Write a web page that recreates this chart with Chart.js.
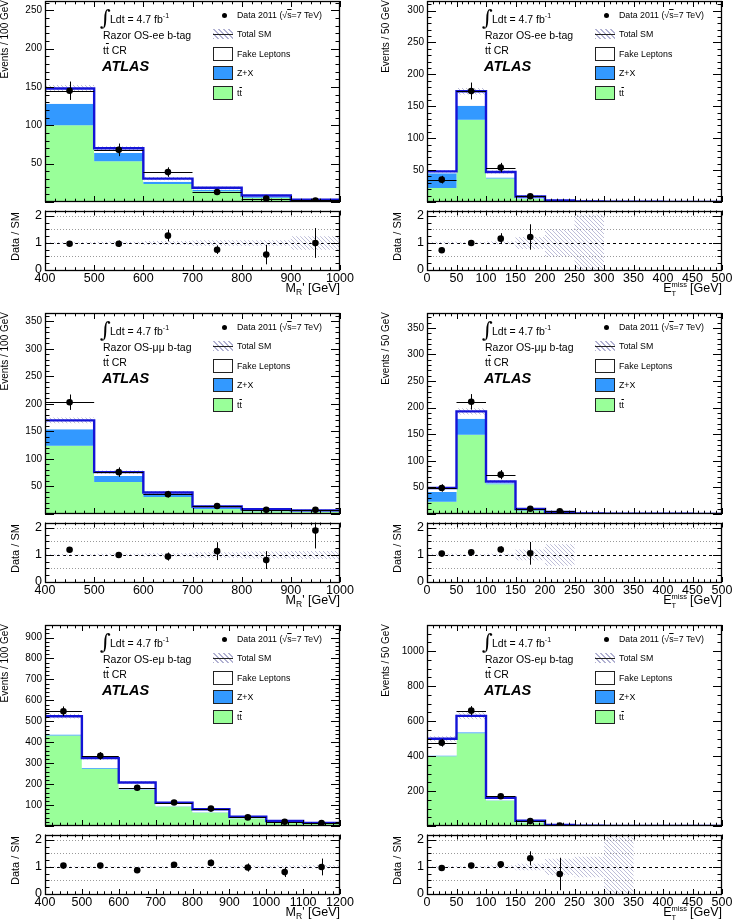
<!DOCTYPE html>
<html>
<head>
<meta charset="utf-8">
<title>Razor ttbar control regions</title>
<script src="https://cdn.jsdelivr.net/npm/chart.js@4.4.1/dist/chart.umd.min.js"></script>
<style>
  body { margin: 0; background: #fff; }
  #page { position: relative; width: 737px; height: 920px; overflow: hidden; background: #fff;
          font-family: "Liberation Sans", Arial, sans-serif; color: #000; }
  #page canvas { position: absolute; }
  .t { position: absolute; white-space: nowrap; line-height: 1; }
  .ov { text-decoration: overline; }
  .vt { position: absolute; writing-mode: vertical-rl; transform: rotate(180deg); white-space: nowrap; line-height: 1; }
  .sw { position: absolute; box-sizing: border-box; border: 1px solid #222; }
</style>
</head>
<body>
<div id="page"></div>
<script>
// bin edges
const mrEdges = [400, 500, 600, 700, 800, 900, 1000];
const emuMrEdges = [400, 500, 600, 700, 800, 900, 1000, 1100, 1200];
const metEdges = [0, 50, 100, 150, 200, 250, 300, 350, 400, 450, 500];

// OS-ee, M_R'
const eeMrTtbar = [100, 53, 23.5, 14, 5.5, 2];
const eeMrZx = [28, 11, 3, 2, 1.5, 0.5];
const eeMrFake = [20, 6, 4, 2.5, 1.5, 0.5];
const eeMrData = [145, 68, 39, 13, 4.5, 2];
const eeMrDataErr = [12, 8.2, 6.2, 3.6, 2.1, 1.4];
const eeMrRatio = [0.97, 0.97, 1.27, 0.75, 0.57, 1.0];
const eeMrRatioErr = [0.08, 0.12, 0.21, 0.16, 0.36, 0.55];
const eeMrUnc = [0.03, 0.04, 0.07, 0.1, 0.1, 0.25];

// OS-ee, MET
const eeMetTtbar = [22, 129, 37, 5, 1.5, 0.6, 0.3, 0.2, 0.1, 0.1];
const eeMetZx = [23, 22, 1.5, 1, 0.3, 0.1, 0.1, 0.1, 0.05, 0.05];
const eeMetFake = [3, 22.5, 8.5, 2.7, 0.7, 0.3, 0.2, 0.1, 0.1, 0.05];
const eeMetData = [35, 174, 54, 9];
const eeMetDataErr = [6, 13.2, 7.3, 3];
const eeMetRatio = [0.73, 1.0, 1.16, 1.22];
const eeMetRatioErr = [0.1, 0.08, 0.2, 0.47];
const eeMetUnc = [0.04, 0.03, 0.05, 0.22, 0.5, 1.05, 0, 0, 0, 0];

// OS-mumu, M_R'
const mmMrTtbar = [124, 58, 31, 9, 5, 4];
const mmMrZx = [30, 11, 5, 2, 1.5, 1];
const mmMrFake = [16, 7, 3, 2.5, 2, 1.6];
const mmMrData = [203, 76, 36, 14.5, 7.5, 7.5];
const mmMrDataErr = [14, 8.7, 6, 3.8, 2.7, 2.7];
const mmMrRatio = [1.19, 1.0, 0.94, 1.14, 0.81, 1.9];
const mmMrRatioErr = [0.09, 0.11, 0.15, 0.33, 0.33, 0.66];
const mmMrUnc = [0.03, 0.04, 0.06, 0.1, 0.13, 0.15];

// OS-mumu, MET
const mmMetTtbar = [23, 149, 56, 7, 2.5, 0.7, 0.4, 0.3, 0.2, 0.1];
const mmMetZx = [18.5, 30, 2, 1, 0.5, 0.2, 0.1, 0.1, 0.05, 0.05];
const mmMetFake = [7.5, 14, 3, 1.3, 0.7, 0.3, 0.2, 0.1, 0.1, 0.05];
const mmMetData = [49, 211, 74, 10, 5];
const mmMetDataErr = [7, 14.5, 8.6, 3.2, 2.2];
const mmMetRatio = [1.05, 1.1, 1.2, 1.06];
const mmMetRatioErr = [0.1, 0.07, 0.12, 0.42];
const mmMetUnc = [0.04, 0.03, 0.04, 0.2, 0.4, 0, 0, 0, 0, 0];

// OS-emu, M_R'
const emMrTtbar = [432, 274, 173, 93, 65, 36, 17, 11];
const emMrZx = [5, 3, 2, 1, 1, 0.5, 0.3, 0.2];
const emMrFake = [87, 47, 33, 17, 14, 7.5, 6.7, 3.8];
const emMrData = [548, 335, 183, 112, 83, 41, 20, 14];
const emMrDataErr = [23, 18, 13.5, 10.6, 9, 6.4, 4.5, 3.7];
const emMrRatio = [1.05, 1.05, 0.88, 1.08, 1.15, 0.98, 0.81, 1.0];
const emMrRatioErr = [0.05, 0.06, 0.07, 0.1, 0.12, 0.15, 0.18, 0.31];
const emMrUnc = [0.02, 0.02, 0.03, 0.03, 0.03, 0.04, 0.05, 0.06];

// OS-emu, MET
const emMetTtbar = [399, 531, 146, 20, 3.5, 1.2, 0.6, 0.3, 0.2, 0.2];
const emMetZx = [4, 5, 2, 1, 0.5, 0.2, 0.1, 0.1, 0.1, 0.05];
const emMetFake = [96, 94, 14, 9, 2, 0.6, 0.3, 0.2, 0.1, 0.05];
const emMetData = [476, 660, 170, 28, 2];
const emMetDataErr = [22, 26, 13, 5.3, 1.4];
const emMetRatio = [0.96, 1.05, 1.1, 1.32, 0.74];
const emMetRatioErr = [0.05, 0.04, 0.08, 0.26, 0.6];
const emMetUnc = [0.03, 0.03, 0.05, 0.12, 0.3, 0.38, 1.1, 0, 0, 0];

const GREEN = 'rgb(153,255,153)';
const ZBLUE = 'rgb(51,153,255)';
const SMBLUE = 'rgb(20,20,215)';
const FONT = '"Liberation Sans", Arial, sans-serif';

Chart.defaults.font.family = FONT;
Chart.defaults.color = '#000';

const page = document.getElementById('page');

function makeHatch() {
    const c = document.createElement('canvas');
    c.width = 4; c.height = 4;
    const g = c.getContext('2d');
    g.strokeStyle = 'rgba(125,125,180,0.5)';
    g.lineWidth = 1;
    g.beginPath();
    g.moveTo(0, 0); g.lineTo(4, 4);
    g.moveTo(-1, 3); g.lineTo(1, 5);
    g.moveTo(3, -1); g.lineTo(5, 1);
    g.stroke();
    return g.createPattern(c, 'repeat');
}
const hatch = makeHatch();

function addCanvas(left, top, w, h) {
    const c = document.createElement('canvas');
    c.width = w; c.height = h;
    c.style.left = left + 'px';
    c.style.top = top + 'px';
    page.appendChild(c);
    return c;
}

function txt(html, left, cy, size, extra) {
    const d = document.createElement('div');
    d.className = 't';
    d.innerHTML = html;
    d.style.left = left + 'px';
    d.style.top = (cy - size * 0.49) + 'px';
    d.style.fontSize = size + 'px';
    if (extra) Object.assign(d.style, extra);
    page.appendChild(d);
    return d;
}

function box(left, top, w, h, css) {
    const d = document.createElement('div');
    d.className = 'sw';
    Object.assign(d.style, { left: left + 'px', top: top + 'px', width: w + 'px', height: h + 'px' }, css);
    page.appendChild(d);
}

// histogram as a stepped line: one point per bin start plus the last edge
function stepPts(edges, vals) {
    const pts = vals.map((v, i) => ({ x: edges[i], y: v }));
    pts.push({ x: edges[edges.length - 1], y: vals[vals.length - 1] });
    return pts;
}

function fillSet(pts, fill, color, order) {
    return { data: pts, stepped: true, fill: fill, backgroundColor: color,
             borderColor: 'rgba(0,0,0,0)', borderWidth: 0, pointRadius: 0, order: order };
}

function pointSet(xs, ys, order) {
    return { data: ys.map((v, i) => ({ x: xs[i], y: v })), showLine: false, fill: false,
             pointRadius: 3.3, pointBackgroundColor: '#000', pointBorderColor: '#000',
             pointBorderWidth: 0, order: order };
}

// ROOT style frame with inward ticks on all four sides
function frameTicks(cfg) {
    return {
        id: 'frameTicks',
        afterDraw(chart) {
            const { ctx, chartArea: a, scales: { x, y } } = chart;
            ctx.save();
            ctx.strokeStyle = '#000';
            ctx.lineWidth = 1;
            ctx.beginPath();
            let st = cfg.xStep / cfg.xSub;
            for (let i = Math.ceil(x.min / st - 1e-6); i * st <= x.max + 1e-6; i++) {
                const v = i * st;
                const major = Math.abs(v / cfg.xStep - Math.round(v / cfg.xStep)) < 1e-6;
                const len = major ? cfg.xLen : cfg.xLen * 0.55;
                const px = Math.round(x.getPixelForValue(v)) + 0.5;
                ctx.moveTo(px, a.bottom); ctx.lineTo(px, a.bottom - len);
                ctx.moveTo(px, a.top); ctx.lineTo(px, a.top + len);
            }
            st = cfg.yStep / cfg.ySub;
            for (let i = Math.ceil(y.min / st - 1e-6); i * st <= y.max + 1e-6; i++) {
                const v = i * st;
                const major = Math.abs(v / cfg.yStep - Math.round(v / cfg.yStep)) < 1e-6;
                const len = major ? cfg.yLen : cfg.yLen * 0.5;
                const py = Math.round(y.getPixelForValue(v)) + 0.5;
                ctx.moveTo(a.left, py); ctx.lineTo(a.left + len, py);
                ctx.moveTo(a.right, py); ctx.lineTo(a.right - len, py);
            }
            ctx.stroke();
            ctx.lineWidth = 1.3;
            ctx.strokeRect(Math.round(a.left) + 0.5, Math.round(a.top) + 0.5,
                           Math.round(a.right - a.left) - 1, Math.round(a.bottom - a.top) - 1);
            ctx.restore();
        }
    };
}

function errBars(xs, ys, errs, half) {
    return {
        id: 'errBars',
        afterDatasetsDraw(chart) {
            const { ctx, chartArea: a, scales: { x, y } } = chart;
            ctx.save();
            ctx.beginPath();
            ctx.rect(a.left, a.top, a.right - a.left, a.bottom - a.top);
            ctx.clip();
            ctx.strokeStyle = '#000';
            ctx.lineWidth = 1;
            ctx.beginPath();
            ys.forEach((v, i) => {
                const px = Math.round(x.getPixelForValue(xs[i])) + 0.5;
                const py = Math.round(y.getPixelForValue(v)) + 0.5;
                ctx.moveTo(px, y.getPixelForValue(v - errs[i]));
                ctx.lineTo(px, y.getPixelForValue(v + errs[i]));
                if (half) {
                    ctx.moveTo(x.getPixelForValue(xs[i] - half), py);
                    ctx.lineTo(x.getPixelForValue(xs[i] + half), py);
                }
            });
            ctx.stroke();
            ctx.restore();
        }
    };
}

const ratioLines = {
    id: 'ratioLines',
    beforeDatasetsDraw(chart) {
        const { ctx, chartArea: a, scales: { y } } = chart;
        ctx.save();
        ctx.lineWidth = 1;
        ctx.strokeStyle = '#999';
        ctx.setLineDash([1, 2]);
        ctx.beginPath();
        [0.5, 1.5, 2].forEach(v => {
            const py = Math.round(y.getPixelForValue(v)) + 0.5;
            ctx.moveTo(a.left, py); ctx.lineTo(a.right, py);
        });
        ctx.stroke();
        ctx.strokeStyle = '#000';
        ctx.setLineDash([3, 3]);
        ctx.beginPath();
        const py = Math.round(y.getPixelForValue(1)) + 0.5;
        ctx.moveTo(a.left, py); ctx.lineTo(a.right, py);
        ctx.stroke();
        ctx.restore();
    }
};

const plain = v => String(v);

function makePanel(p) {
    const L = p.col === 0 ? 45 : 427;
    const T = p.row * 312;
    const cl = L - 45;
    const w = p.col === 0 ? 360 : 355;
    const centers = p.edges.slice(0, -1).map((e, i) => (e + p.edges[i + 1]) / 2);
    const half = (p.edges[1] - p.edges[0]) / 2;
    const zxTop = p.ttbar.map((v, i) => v + p.zx[i]);
    const total = zxTop.map((v, i) => v + p.fake[i]);
    const xMin = p.edges[0];
    const xMax = p.edges[p.edges.length - 1];

    // main histogram pad
    new Chart(addCanvas(cl, T - 8, w, 219), {
        type: 'line',
        data: {
            datasets: [
                fillSet(stepPts(p.edges, p.ttbar), 'origin', GREEN, 10),
                fillSet(stepPts(p.edges, zxTop), '-1', ZBLUE, 9),
                fillSet(stepPts(p.edges, total), '-1', '#fff', 8),
                fillSet(stepPts(p.edges, total.map((v, i) => v * (1 - p.unc[i]))), false, 'rgba(0,0,0,0)', 7),
                fillSet(stepPts(p.edges, total.map((v, i) => v * (1 + p.unc[i]))), '-1', hatch, 6),
                { data: stepPts(p.edges, total), stepped: true, fill: false, borderColor: SMBLUE,
                  borderWidth: 2.4, pointRadius: 0, order: 2 },
                pointSet(centers, p.data, 1)
            ]
        },
        options: {
            responsive: false,
            animation: false,
            events: [],
            layout: { padding: { top: 8, bottom: 8, left: 0, right: w - 340 } },
            plugins: { legend: { display: false }, tooltip: { enabled: false } },
            scales: {
                x: { type: 'linear', min: xMin, max: xMax, display: false },
                y: {
                    min: 0, max: p.yMax,
                    grid: { display: false, drawTicks: false },
                    border: { display: false },
                    ticks: { stepSize: p.yStep, includeBounds: false, padding: 3, font: { size: 10 },
                             callback: v => v === 0 ? '' : String(v) },
                    afterFit: s => { s.width = 45; }
                }
            }
        },
        plugins: [errBars(centers, p.data, p.dataErr, half),
                  frameTicks({ xStep: p.xStep, xSub: 5, xLen: 6, yStep: p.yStep, ySub: p.ySub, yLen: 9 })]
    });

    // ratio pad
    const rT = T + 208;
    new Chart(addCanvas(cl, rT - 8, w, 86), {
        type: 'line',
        data: {
            datasets: [
                fillSet(stepPts(p.edges, p.unc.map(u => Math.max(0, 1 - u))), false, 'rgba(0,0,0,0)', 5),
                fillSet(stepPts(p.edges, p.unc.map(u => 1 + u)), '-1', hatch, 4),
                pointSet(centers, p.ratio, 1)
            ]
        },
        options: {
            responsive: false,
            animation: false,
            events: [],
            layout: { padding: { top: 8, bottom: 0, left: 0, right: w - 340 } },
            plugins: { legend: { display: false }, tooltip: { enabled: false } },
            scales: {
                x: {
                    type: 'linear', min: xMin, max: xMax,
                    grid: { display: false, drawTicks: false },
                    border: { display: false },
                    ticks: { stepSize: p.xStep, includeBounds: false, autoSkip: false, maxRotation: 0,
                             padding: 1, font: { size: 12.5 }, callback: plain },
                    afterFit: s => { s.height = 16; }
                },
                y: {
                    min: 0, max: 2.2,
                    grid: { display: false, drawTicks: false },
                    border: { display: false },
                    ticks: { stepSize: 1, includeBounds: false, padding: 3, font: { size: 12.5 }, callback: plain },
                    afterFit: s => { s.width = 45; }
                }
            }
        },
        plugins: [ratioLines, errBars(centers, p.ratio, p.ratioErr, 0),
                  frameTicks({ xStep: p.xStep, xSub: 5, xLen: 5, yStep: 1, ySub: 4, yLen: 9 })]
    });

    // axis titles
    const yt = document.createElement('div');
    yt.className = 'vt';
    yt.textContent = p.yTitle;
    Object.assign(yt.style, { left: (L - (p.col === 0 ? 45 : 46)) + 'px', top: T + 'px', fontSize: '10px' });
    page.appendChild(yt);

    const rt = document.createElement('div');
    rt.className = 'vt';
    rt.textContent = 'Data / SM';
    Object.assign(rt.style, { left: (L - 35) + 'px', top: rT + 'px', height: '58px', fontSize: '11px', textAlign: 'center' });
    page.appendChild(rt);

    const xt = txt(p.xTitle, 0, T + 288, 12.5);
    xt.style.left = '';
    xt.style.right = (737 - (L + 295)) + 'px';

    // labels in the pad
    txt('\u222B', L + 55, T + 18, 21, { fontFamily: '"DejaVu Serif", serif' });
    txt('Ldt = 4.7 fb<sup style="font-size:7px">-1</sup>', L + 65, T + 17, 10.5);
    txt('Razor OS-' + p.chan + ' b-tag', L + 58, T + 35, 10.5);
    txt('t<span class="ov">t</span> CR', L + 58, T + 50, 10.5);
    txt('ATLAS', L + 57, T + 66, 14.5, { fontWeight: 'bold', fontStyle: 'italic' });

    // legend
    const lx = L + 168;
    const tx = L + 192;
    const dot = document.createElement('div');
    Object.assign(dot.style, { position: 'absolute', left: (L + 176.5) + 'px', top: (T + 12.5) + 'px',
                               width: '5px', height: '5px', borderRadius: '50%', background: '#000' });
    page.appendChild(dot);
    txt('Data 2011 (\u221A<span class="ov">s</span>=7 TeV)', tx, T + 15, 8.8);
    box(lx, T + 29, 20, 10, { border: 'none',
        background: 'repeating-linear-gradient(45deg, rgba(125,125,180,0.6) 0 1px, transparent 1px 3.5px)' });
    box(lx, T + 33.5, 20, 1.5, { border: 'none', background: '#222' });
    txt('Total SM', tx, T + 34, 8.8);
    box(lx, T + 47, 20, 14, { background: '#fff' });
    txt('Fake Leptons', tx, T + 54, 8.8);
    box(lx, T + 66, 20, 14, { background: ZBLUE });
    txt('Z+X', tx, T + 73, 8.8);
    box(lx, T + 86, 20, 14, { background: GREEN });
    txt('t<span class="ov">t</span>', tx, T + 93, 8.8);
}

const MR_TITLE = 'M<span style="font-size:8.5px;position:relative;top:3px">R</span>\' [GeV]';
const MET_TITLE = 'E<span style="position:relative;display:inline-block;width:15px;height:1px">' +
    '<span style="position:absolute;left:0;top:-10px;font-size:7.5px">miss</span>' +
    '<span style="position:absolute;left:0;top:-1px;font-size:7.5px">T</span></span> [GeV]';

makePanel({ row: 0, col: 0, chan: 'ee', edges: mrEdges, ttbar: eeMrTtbar, zx: eeMrZx, fake: eeMrFake,
            data: eeMrData, dataErr: eeMrDataErr, ratio: eeMrRatio, ratioErr: eeMrRatioErr, unc: eeMrUnc,
            yMax: 262, yStep: 50, ySub: 5, xStep: 100, yTitle: 'Events / 100 GeV', xTitle: MR_TITLE });
makePanel({ row: 0, col: 1, chan: 'ee', edges: metEdges, ttbar: eeMetTtbar, zx: eeMetZx, fake: eeMetFake,
            data: eeMetData, dataErr: eeMetDataErr, ratio: eeMetRatio, ratioErr: eeMetRatioErr, unc: eeMetUnc,
            yMax: 315, yStep: 50, ySub: 5, xStep: 50, yTitle: 'Events / 50 GeV', xTitle: MET_TITLE });
makePanel({ row: 1, col: 0, chan: '\u03BC\u03BC', edges: mrEdges, ttbar: mmMrTtbar, zx: mmMrZx, fake: mmMrFake,
            data: mmMrData, dataErr: mmMrDataErr, ratio: mmMrRatio, ratioErr: mmMrRatioErr, unc: mmMrUnc,
            yMax: 365, yStep: 50, ySub: 5, xStep: 100, yTitle: 'Events / 100 GeV', xTitle: MR_TITLE });
makePanel({ row: 1, col: 1, chan: '\u03BC\u03BC', edges: metEdges, ttbar: mmMetTtbar, zx: mmMetZx, fake: mmMetFake,
            data: mmMetData, dataErr: mmMetDataErr, ratio: mmMetRatio, ratioErr: mmMetRatioErr, unc: mmMetUnc,
            yMax: 378, yStep: 50, ySub: 5, xStep: 50, yTitle: 'Events / 50 GeV', xTitle: MET_TITLE });
makePanel({ row: 2, col: 0, chan: 'e\u03BC', edges: emuMrEdges, ttbar: emMrTtbar, zx: emMrZx, fake: emMrFake,
            data: emMrData, dataErr: emMrDataErr, ratio: emMrRatio, ratioErr: emMrRatioErr, unc: emMrUnc,
            yMax: 960, yStep: 100, ySub: 5, xStep: 100, yTitle: 'Events / 100 GeV', xTitle: MR_TITLE });
makePanel({ row: 2, col: 1, chan: 'e\u03BC', edges: metEdges, ttbar: emMetTtbar, zx: emMetZx, fake: emMetFake,
            data: emMetData, dataErr: emMetDataErr, ratio: emMetRatio, ratioErr: emMetRatioErr, unc: emMetUnc,
            yMax: 1150, yStep: 200, ySub: 4, xStep: 50, yTitle: 'Events / 50 GeV', xTitle: MET_TITLE });
</script>
</body>
</html>
